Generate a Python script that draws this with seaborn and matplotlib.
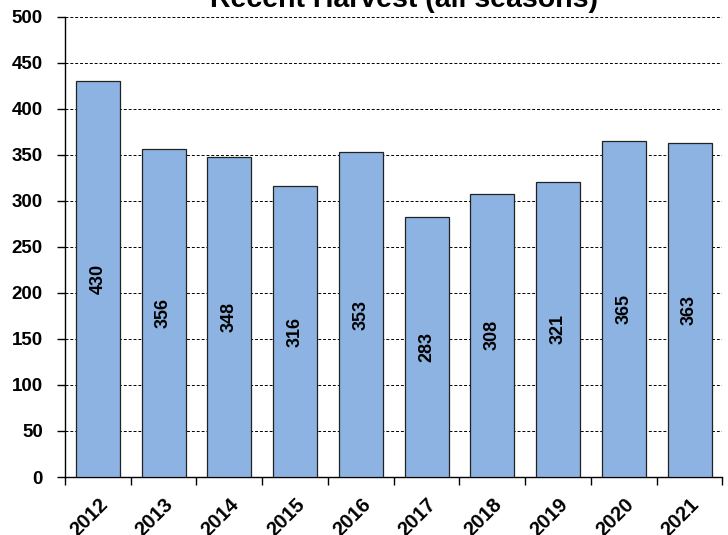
import numpy as np
import pandas as pd
import matplotlib
matplotlib.use("Agg")
import matplotlib.pyplot as plt
import matplotlib.transforms as mtransforms
import seaborn as sns

# datos
years = ["2012", "2013", "2014", "2015", "2016", "2017", "2018", "2019", "2020", "2021"]
harvest = [430, 356, 348, 316, 353, 283, 308, 321, 365, 363]

df = pd.DataFrame({"year": years, "harvest": harvest})

sns.set_style("white")
plt.rcParams["font.family"] = ["Liberation Sans", "DejaVu Sans"]
plt.rcParams["font.weight"] = "bold"
plt.rcParams["text.color"] = "black"
plt.rcParams["xtick.color"] = "black"
plt.rcParams["ytick.color"] = "black"

fig = plt.figure(figsize=(7.28, 5.35), dpi=100)
ax = fig.add_axes([0.0893, 0.1084, 0.903, 0.86])

sns.barplot(data=df, x="year", y="harvest", color="#8DB3E2", saturation=1,
            edgecolor="#222222", linewidth=0.9, width=0.67, ax=ax, zorder=3)

# etiquetas dentro de las barras
for i, v in enumerate(harvest):
    ax.text(i, v / 2, str(v), rotation=90, ha="center", va="center",
            fontsize=13, fontweight="bold", zorder=4)

ax.set_ylim(0, 500)
ax.set_xlim(-0.5, len(years) - 0.5)
ax.set_yticks(np.arange(0, 501, 50))
ax.yaxis.grid(True, linestyle=(0, (3, 2)), color="black", linewidth=0.7, zorder=0)
ax.xaxis.grid(False)

# ticks en los limites, etiquetas en el centro
ax.set_xticks(np.arange(-0.5, len(years), 1.0))
ax.set_xticklabels([])
ax.set_xticks(np.arange(len(years)), minor=True)
ax.set_xticklabels(years, minor=True, rotation=45, ha="right",
                   rotation_mode="anchor", fontsize=14.5, fontweight="bold")
shift = mtransforms.ScaledTranslation(-3 / 100, 0, fig.dpi_scale_trans)
for lbl in ax.get_xticklabels(minor=True):
    lbl.set_transform(lbl.get_transform() + shift)
ax.tick_params(axis="x", which="major", length=6, width=1, direction="out", bottom=True)
ax.tick_params(axis="x", which="minor", length=0, pad=13)
ax.tick_params(axis="y", length=6, width=1, direction="out", left=True,
               labelsize=13.5, pad=10)
for lbl in ax.get_yticklabels():
    lbl.set_fontweight("bold")

for s in ["top", "right"]:
    ax.spines[s].set_visible(False)
ax.spines["left"].set_color("black")
ax.spines["bottom"].set_color("black")
ax.spines["left"].set_linewidth(1)
ax.spines["bottom"].set_linewidth(1)

ax.set_xlabel("")
ax.set_ylabel("")
fig.text(0.555, 1 - 7 / 535, "Recent Harvest (all seasons)", ha="center",
         va="baseline", fontsize=20.5, fontweight="bold")

fig.savefig("out.png", dpi=100)
